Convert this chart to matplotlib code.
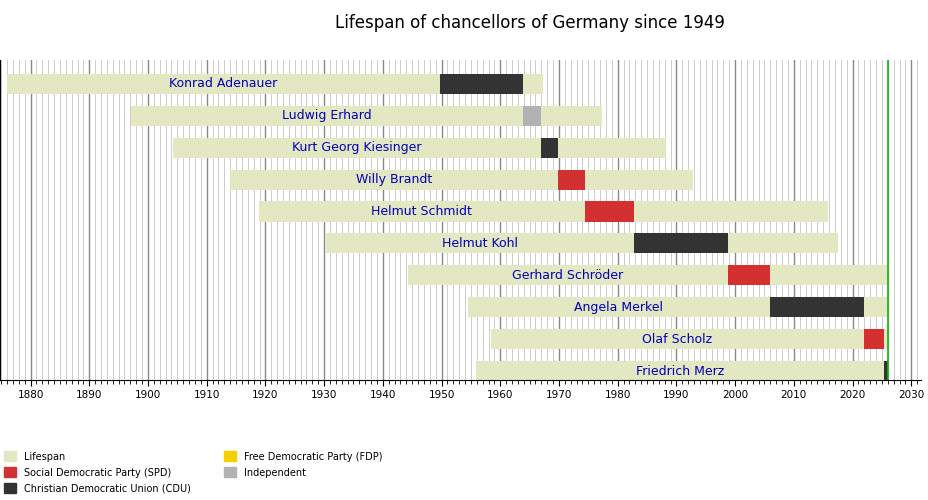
import matplotlib
matplotlib.use("Agg")
import matplotlib.pyplot as plt
from matplotlib.patches import Patch

names = ["Konrad Adenauer", "Ludwig Erhard", "Kurt Georg Kiesinger", "Willy Brandt",
         "Helmut Schmidt", "Helmut Kohl", "Gerhard Schröder", "Angela Merkel",
         "Olaf Scholz", "Friedrich Merz"]
born = [1876.0, 1897.1, 1904.3, 1913.95, 1918.95, 1930.3, 1944.3, 1954.5, 1958.45, 1955.9]
died = [1967.3, 1977.35, 1988.2, 1992.8, 2015.9, 2017.5, 2026.1, 2026.1, 2026.1, 2026.1]
term_start = [1949.7, 1963.8, 1966.9, 1969.8, 1974.35, 1982.75, 1998.8, 2005.9, 2021.9, 2025.35]
term_end = [1963.8, 1966.9, 1969.8, 1974.35, 1982.75, 1998.8, 2005.9, 2021.9, 2025.35, 2026.1]
party = ["CDU", "IND", "CDU", "SPD", "SPD", "CDU", "SPD", "CDU", "SPD", "CDU"]
today = 2026.1

colors = {"SPD": "#d33131", "CDU": "#333333", "FDP": "#f5d000", "IND": "#b2b2b2"}
life_col = "#e3e8c3"

fig = plt.figure(figsize=(9.29, 5), dpi=100)
ax = fig.add_axes([0.0, 0.24, 0.991, 0.64])
xmin, xmax = 1874.8, 2031.6
ax.set_xlim(xmin, xmax)
n = len(names)
ax.set_ylim(n - 0.72, -0.75)

for yr in range(1875, 2032):
    ax.axvline(yr, color="#888888" if yr % 10 == 0 else "#c4c4c4",
               lw=1.0 if yr % 10 == 0 else 0.6, zorder=0)

for i in range(n):
    ax.barh(i, died[i] - born[i], left=born[i], height=0.63, color=life_col, zorder=2)
    ax.barh(i, term_end[i] - term_start[i], left=term_start[i], height=0.63,
            color=colors[party[i]], zorder=3)
    ax.text((born[i] + term_start[i]) / 2, i, names[i], color="#0000bb",
            ha="center", va="center", fontsize=9, zorder=4)

ax.axvline(today, color="#00bb00", lw=1.2, zorder=5)

ax.set_yticks([])
for s in ["top", "right"]:
    ax.spines[s].set_visible(False)
ax.spines["left"].set_color("#000000")
ax.set_xticks(range(1880, 2031, 10))
ax.set_xticks(range(1875, 2032), minor=True)
ax.tick_params(axis="x", labelsize=7.5, length=4, direction="out")
ax.tick_params(axis="x", which="minor", length=3)

fig.text(0.57, 0.955, "Lifespan of chancellors of Germany since 1949", ha="center",
         va="center", fontsize=12)

handles = [Patch(color=life_col, label="Lifespan"),
           Patch(color=colors["SPD"], label="Social Democratic Party (SPD)"),
           Patch(color=colors["CDU"], label="Christian Democratic Union (CDU)"),
           Patch(color=colors["FDP"], label="Free Democratic Party (FDP)"),
           Patch(color=colors["IND"], label="Independent")]
fig.legend(handles=handles, loc="lower left", bbox_to_anchor=(-0.005, -0.005), ncol=2,
           frameon=False, fontsize=7, handlelength=1.2, handleheight=1.2,
           columnspacing=3.5, labelspacing=0.6)

fig.savefig("out.png", dpi=100)
